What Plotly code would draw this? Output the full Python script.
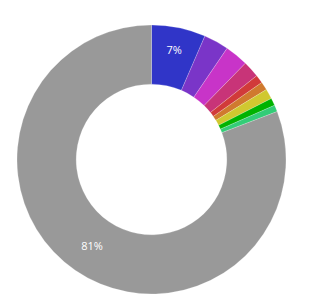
import plotly.graph_objects as go

labels = ["A", "B", "C", "D", "E", "F", "G", "H", "I", "Other"]
values = [6.5, 3.0, 2.8, 2.0, 1.0, 1.0, 1.2, 0.9, 0.8, 80.8]
colors = ["#3035c8", "#7a35c8", "#c834c8", "#c83478", "#d13a3a",
          "#d07a2e", "#d0c830", "#00b300", "#33cc77", "#999999"]
show_text = [True, False, False, False, False, False, False, False, False, True]

fig = go.Figure(go.Pie(
    labels=labels,
    values=values,
    hole=0.56,
    sort=False,
    direction="clockwise",
    rotation=0,
    marker=dict(colors=colors, line=dict(color="rgba(255,255,255,0.4)", width=0.5)),
    texttemplate=["%{percent:.0%}" if s else "" for s in show_text],
    textposition="inside",
    insidetextorientation="horizontal",
    textfont=dict(color="white", size=11, family="Open Sans"),
    showlegend=False,
    hoverinfo="label+percent",
))
fig.update_layout(
    width=326, height=302,
    margin=dict(l=17, r=40, t=25, b=8),
    paper_bgcolor="white",
    plot_bgcolor="white",
)
fig.write_html("out.html")
